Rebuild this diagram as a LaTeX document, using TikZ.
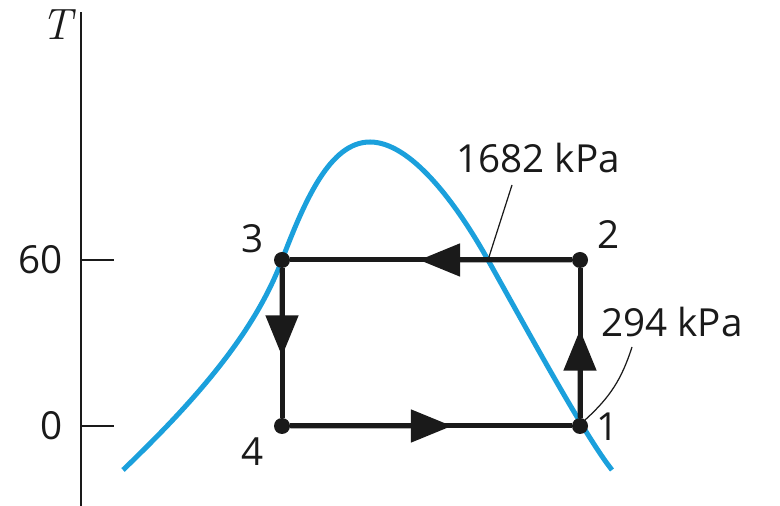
\documentclass[tikz,border=0pt]{standalone}
\usepackage{fontspec}
\setsansfont{Open Sans}
\usetikzlibrary{calc,arrows.meta}
\definecolor{satblue}{RGB}{27,160,220}
\definecolor{ink}{RGB}{26,26,26}

\begin{document}
\begin{tikzpicture}[x=0.02cm, y=0.02cm, line join=round,
    dot/.style={circle, fill=ink, inner sep=0pt, minimum size=0.32cm},
    lbl/.style={font=\sffamily\fontsize{22}{26}\selectfont, text=ink, inner sep=0pt},
    cyc/.style={line width=0.1cm, draw=ink},
    tri/.style={cyc, -{Triangle[length=0.82cm, width=0.64cm]}},
    lead/.style={line width=0.7pt, draw=ink},
    tick/.style={line width=1pt, draw=ink}]
    \useasboundingbox (0,0) rectangle (780,506);

    % axis
    \coordinate (O) at (81,0);
    \coordinate (Top) at (81,494);
    \draw[line width=1.3pt, ink] (O) -- (Top);
    \node[font=\rmfamily\itshape\fontsize{25}{28}\selectfont, text=ink, inner sep=0pt] (T) at (57,481) {T};
    \coordinate (t60) at (81,246);
    \coordinate (t0) at (81,80);
    \draw[tick] (t60) -- ++(33,0);
    \draw[tick] (t0) -- ++(33,0);
    \node[lbl, anchor=east] (y60) at (63,246) {60};
    \node[lbl, anchor=east] (y0) at (63,80) {0};

    % saturation dome
    \draw[satblue, line width=0.1cm] (123,36)
        .. controls (200,110) and (255,175) .. (282,246)
        .. controls (305,306) and (330,364) .. (370,364)
        .. controls (410,364) and (455,305) .. (488,246)
        .. controls (530,171) and (585,70) .. (612,36);

    % cycle states
    \node[dot] (p1) at (580,80) {};
    \node[dot] (p2) at (580,246) {};
    \node[dot] (p3) at (282,246) {};
    \node[dot] (p4) at (282,80) {};

    \draw[cyc] (p1) -- (p2) -- (p3) -- (p4) -- (p1);
    \draw[tri] (p1) -- ($(p1)!0.58!(p2)$);
    \draw[tri] (p2) -- ($(p2)!0.54!(p3)$);
    \draw[tri] (p3) -- ($(p3)!0.58!(p4)$);
    \draw[tri] (p4) -- ($(p4)!0.57!(p1)$);

    \node[lbl] (n1) at (608,79) {1};
    \node[lbl] (n2) at (609,271) {2};
    \node[lbl] (n3) at (253,267) {3};
    \node[lbl] (n4) at (253,54) {4};

    % pressure labels
    \node[lbl] (hp) at (538,348) {1682 kPa};
    \node[lbl] (lp) at (672,184) {294 kPa};
    \coordinate (hpx) at (488,246);
    \coordinate (hpe) at (512,321);
    \draw[lead] (hpx) -- (hpe);
    \coordinate (lpx) at (585,86);
    \coordinate (lpe) at (632,159);
    \draw[lead] (lpx) to[bend right=15] (lpe);
\end{tikzpicture}
\end{document}
